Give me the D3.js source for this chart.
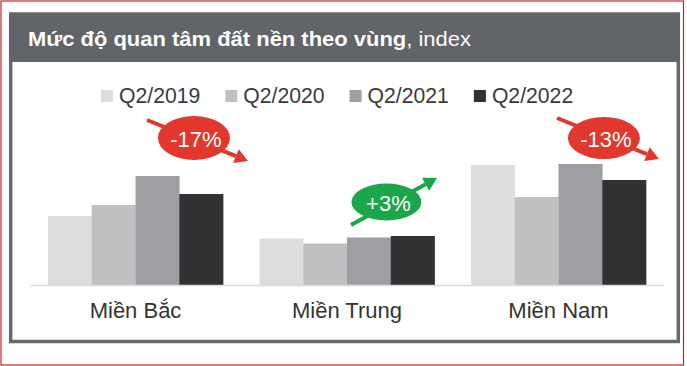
<!DOCTYPE html>
<html><head><meta charset="utf-8">
<script src="https://cdn.jsdelivr.net/npm/d3@7"></script>
<style>
html,body{margin:0;padding:0;background:#fff;}
svg{display:block;font-family:"Liberation Sans",Arial,sans-serif;}
</style></head>
<body>
<svg id="chart" width="687" height="366"></svg>
<script>
const categories = ["Miền Bắc", "Miền Trung", "Miền Nam"];
const seriesNames = ["Q2/2019", "Q2/2020", "Q2/2021", "Q2/2022"];
const q2019 = [69, 46.5, 120];
const q2020 = [80, 41.5, 88];
const q2021 = [109, 47.5, 121];
const q2022 = [91, 49, 105];
const changeLabels = ["-17%", "+3%", "-13%"];
const changeUp = [false, true, false];
const titleBold = "Mức độ quan tâm đất nền theo vùng";
const titleRest = ", index";

const seriesValues = [q2019, q2020, q2021, q2022];
const colors = ["#dcdddf", "#bfc0c2", "#9d9fa2", "#323234"];

const svg = d3.select("#chart");

// outer red frame
svg.append("rect").attr("x", 1).attr("y", 1).attr("width", 682.5).attr("height", 364)
  .attr("fill", "none").attr("stroke", "#c8202a").attr("stroke-width", 1.2);

// gray panel
svg.append("rect").attr("x", 10.7).attr("y", 14).attr("width", 667.6).attr("height", 327.5)
  .attr("fill", "#fff").attr("stroke", "#66696d").attr("stroke-width", 3.5);
svg.append("rect").attr("x", 9).attr("y", 13).attr("width", 671).attr("height", 49)
  .attr("fill", "#616469");

const title = svg.append("text").attr("x", 28).attr("y", 46)
  .attr("fill", "#fff").attr("font-size", 19.5)
  .attr("textLength", 443).attr("lengthAdjust", "spacingAndGlyphs");
title.append("tspan").attr("font-weight", "bold").text(titleBold);
title.append("tspan").text(titleRest);

// legend
const legend = svg.append("g");
let lx = 101;
seriesNames.forEach((s, i) => {
  const g = legend.append("g").attr("transform", `translate(${lx},0)`);
  g.append("rect").attr("x", 0).attr("y", 90).attr("width", 12).attr("height", 12).attr("fill", colors[i]);
  const t = g.append("text").attr("x", 18).attr("y", 102.5).attr("font-size", 21.2)
    .attr("fill", "#3a3a3a").text(s);
  lx += 18 + t.node().getComputedTextLength() + 25;
});

// scales
const baseY = 285;
const x0 = d3.scaleBand().domain(categories).range([30, 664]).paddingInner(0.172).paddingOuter(0.085);
const x1 = d3.scaleBand().domain(seriesNames).range([0, x0.bandwidth()]).padding(0);
const y = d3.scaleLinear().domain([0, 130]).range([baseY, baseY - 130]);

// bars
const groups = svg.append("g").selectAll("g").data(categories).join("g")
  .attr("transform", d => `translate(${x0(d)},0)`);
groups.selectAll("rect").data((c, ci) => seriesNames.map((s, si) => ({s, si, v: seriesValues[si][ci]})))
  .join("rect")
  .attr("x", d => x1(d.s)).attr("width", x1.bandwidth() + 0.3)
  .attr("y", d => y(d.v)).attr("height", d => baseY - y(d.v))
  .attr("fill", d => colors[d.si]);

// axis line
const xAxis = d3.axisBottom(x0).tickSize(0).tickPadding(0);
const ax = svg.append("g").attr("transform", `translate(0,${baseY})`).call(xAxis);
ax.select(".domain").attr("stroke", "#dcdcdc").attr("stroke-width", 1.5);
ax.selectAll(".tick text").attr("font-size", 22).attr("fill", "#333")
  .attr("font-family", "Liberation Sans, Arial, sans-serif").attr("dy", 0).attr("y", 33);

// change annotations
const bubbleSpecs = [
  {cx: 146, cy: 138, rx: 36, ry: 22, x1: 147, y1: 120, x2: 248, y2: 161},
  {cx: 127, cy: 202, rx: 35, ry: 18.5, x1: 351, y1: 225, x2: 437, y2: 178},
  {cx: 133, cy: 138, rx: 36, ry: 21, x1: 557, y1: 118, x2: 659, y2: 159}
];
categories.forEach((c, i) => {
  const b = bubbleSpecs[i];
  const col = changeUp[i] ? "#1ba64b" : "#e1372c";
  const g = svg.append("g");
  const dx = b.x2 - b.x1, dy = b.y2 - b.y1, L = Math.hypot(dx, dy);
  const ux = dx / L, uy = dy / L, headLen = 13, headW = 7.5;
  const bx = b.x2 - ux * headLen, by = b.y2 - uy * headLen;
  g.append("line").attr("x1", b.x1).attr("y1", b.y1).attr("x2", bx).attr("y2", by)
    .attr("stroke", col).attr("stroke-width", 4);
  g.append("path").attr("d", `M${b.x2},${b.y2} L${bx - uy * headW},${by + ux * headW} L${bx + uy * headW},${by - ux * headW} Z`)
    .attr("fill", col);
  const cx = x0(c) + b.cx;
  g.append("ellipse").attr("cx", cx).attr("cy", b.cy).attr("rx", b.rx).attr("ry", b.ry).attr("fill", col);
  g.append("text").attr("x", cx + 2).attr("y", b.cy + 9).attr("text-anchor", "middle")
    .attr("font-size", 22).attr("fill", "#fff").text(changeLabels[i]);
});
</script>
</body></html>
